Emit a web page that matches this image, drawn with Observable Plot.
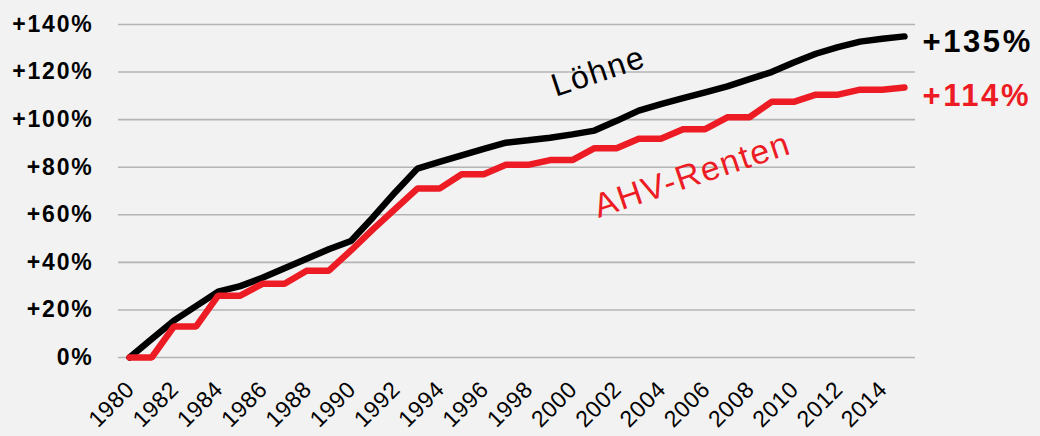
<!DOCTYPE html>
<html>
<head>
<meta charset="utf-8">
<script src="https://cdn.jsdelivr.net/npm/d3@7"></script>
<script src="https://cdn.jsdelivr.net/npm/@observablehq/plot@0.6"></script>
<style>
  html, body { margin: 0; padding: 0; background: #f2f2f2; }
  #chart svg [aria-label="y-axis tick label"] text { letter-spacing: 1.8px; }
  #chart svg .xlab text { letter-spacing: 0.6px; }
  #chart svg .endlab text { letter-spacing: 2.6px; }
  #chart svg .serlab text { letter-spacing: 1.6px; }
</style>
</head>
<body>
<div id="chart"></div>
<script>
const years = [1980,1981,1982,1983,1984,1985,1986,1987,1988,1989,1990,1991,1992,1993,1994,1995,1996,1997,
               1998,1999,2000,2001,2002,2003,2004,2005,2006,2007,2008,2009,2010,2011,2012,2013,2014,2015];
const loehne = [0,7.8,15.5,21.6,27.7,30,33.5,37.5,41.5,45.5,49,59,69.5,79.4,82.2,85,87.7,90.3,
                91.3,92.4,93.8,95.4,99.5,103.8,106.5,109,111.5,114,117,120,124,127.7,130.5,132.8,134,135];
const ahv = [0,0,13,13,26,26,31,31,36.5,36.5,45,54,62.5,71,71,77,77,81,
             81,83,83,88,88,92,92,96,96,101,101,107.5,107.5,110.5,110.5,112.6,112.6,113.5];
const seriesNames = ["Löhne", "AHV-Renten"];
const endLabels = ["+135%", "+114%"];
const yTicks = [0,20,40,60,80,100,120,140];
const yTickLabels = ["0%","+20%","+40%","+60%","+80%","+100%","+120%","+140%"];
const xTicks = [1980,1982,1984,1986,1988,1990,1992,1994,1996,1998,2000,2002,2004,2006,2008,2010,2012,2014];

const rowsL = years.map((y, i) => ({year: y, value: loehne[i]}));
const rowsA = years.map((y, i) => ({year: y, value: ahv[i]}));
const last = years.length - 1;
const FONT = "'Liberation Sans', Arial, Helvetica, sans-serif";

const chart = Plot.plot({
  width: 1040,
  height: 436,
  marginLeft: 118,
  marginRight: 125,
  marginTop: 24,
  marginBottom: 79,
  style: {background: "#f2f2f2", fontFamily: FONT, color: "#000", overflow: "visible"},
  x: {type: "linear", domain: [1979.5, 2015.5], axis: null},
  y: {domain: [0, 140]},
  marks: [
    Plot.gridY(yTicks, {stroke: "#b4b4b4", strokeOpacity: 1, strokeWidth: 1.6}),
    Plot.axisY({ticks: yTicks, tickFormat: d => yTickLabels[yTicks.indexOf(d)], tickSize: 0, tickPadding: 25,
                fontSize: 23, fontWeight: "bold", label: null}),
    Plot.text(xTicks, {x: d => d, frameAnchor: "bottom", text: d => String(d), rotate: -45,
                       textAnchor: "end", lineAnchor: "middle", dx: 1, dy: 28,
                       fontSize: 23, fill: "#000000", className: "xlab"}),
    Plot.line(rowsL, {x: "year", y: "value", stroke: "#000000", strokeWidth: 6.5,
                      strokeLinecap: "round", strokeLinejoin: "miter"}),
    Plot.line(rowsA, {x: "year", y: "value", stroke: "#ed1c24", strokeWidth: 6.5,
                      strokeLinecap: "round", strokeLinejoin: "miter"}),
    Plot.text([{year: years[last], value: loehne[last], t: endLabels[0]}],
              {x: "year", y: "value", text: "t", textAnchor: "start", dx: 18, dy: 6,
               fontSize: 31, fontWeight: "bold", fill: "#000000", className: "endlab"}),
    Plot.text([{year: years[last], value: ahv[last], t: endLabels[1]}],
              {x: "year", y: "value", text: "t", textAnchor: "start", dx: 18, dy: 9,
               fontSize: 31, fontWeight: "bold", fill: "#ed1c24", className: "endlab"}),
    Plot.text([{year: years[21], value: loehne[21], t: seriesNames[0]}],
              {x: "year", y: "value", text: "t", dx: 4, dy: -59, rotate: -18.5,
               fontSize: 32, fill: "#000000", className: "serlab"}),
    Plot.text([{year: years[26], value: ahv[26], t: seriesNames[1]}],
              {x: "year", y: "value", text: "t", dx: -13, dy: 46, rotate: -18.5,
               fontSize: 34, fill: "#ed1c24", className: "serlab"})
  ]
});
document.getElementById("chart").appendChild(chart);
</script>
</body>
</html>
